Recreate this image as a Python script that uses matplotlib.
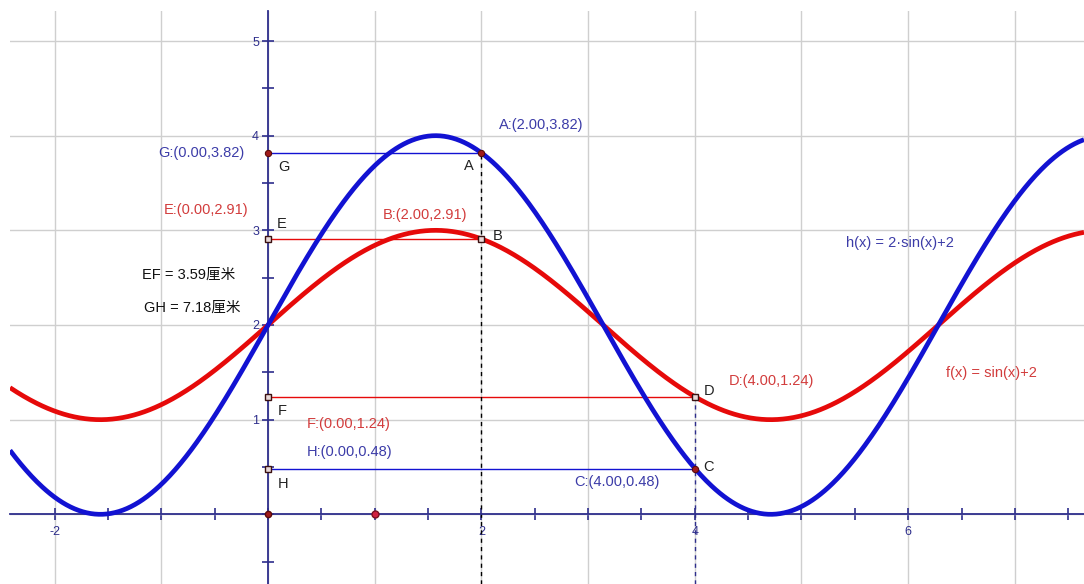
import numpy as np
import matplotlib
matplotlib.use('Agg')
import matplotlib.pyplot as plt

plt.rcParams['font.family'] = ['Liberation Sans', 'Noto Sans CJK SC']

# visible window of the graphing view
x_min, x_max = -2.418, 7.648
y_min, y_max = -0.736, 5.317

# functions drawn in the view: f(x) = sin(x)+2, h(x) = 2·sin(x)+2
xs = np.linspace(x_min, x_max, 800)
f_vals = np.sin(xs) + 2
h_vals = 2 * np.sin(xs) + 2

# named points
pt_names = ['A', 'B', 'C', 'D', 'E', 'F', 'G', 'H']
pt_x = [2.00, 2.00, 4.00, 4.00, 0.00, 0.00, 0.00, 0.00]
pt_y = [3.82, 2.91, 0.48, 1.24, 2.91, 1.24, 3.82, 0.48]
pt_col = ['blue', 'red', 'blue', 'red', 'red', 'red', 'blue', 'blue']

# free points on the x axis
axis_pts_x = [0.0, 1.0]
axis_pts_y = [0.0, 0.0]

# segments between named points
segments = [('G', 'A', 'blue'), ('E', 'B', 'red'), ('F', 'D', 'red'), ('H', 'C', 'blue')]

# measurements shown at the left
measure_text = ['EF = 3.59厘米', 'GH = 7.18厘米']

x_tick_labels = ['-2', '', '', '', '2', '', '4', '', '6', '']
y_tick_labels = ['', '1', '2', '3', '4', '5']

navy = '#2e2e8c'
curve_col = {'blue': '#1212d2', 'red': '#e60a0a'}
text_col = {'blue': '#3c3ca8', 'red': '#d23c3c'}

fig = plt.figure(figsize=(10.84, 5.84), dpi=100)
ax = fig.add_axes([10 / 1084, 0, 1074 / 1084, 573 / 584])
ax.set_xlim(x_min, x_max)
ax.set_ylim(y_min, y_max)

for s in ['top', 'right']:
    ax.spines[s].set_visible(False)
ax.spines['left'].set_position(('data', 0))
ax.spines['bottom'].set_position(('data', 0))
for s in ['left', 'bottom']:
    ax.spines[s].set_color(navy)
    ax.spines[s].set_linewidth(1.3)

ax.set_xticks(np.arange(-2, 8, 1))
ax.set_xticklabels(x_tick_labels)
ax.set_xticks(np.arange(-2.0, 7.6, 0.5), minor=True)
ax.set_yticks(np.arange(0, 6, 1))
ax.set_yticklabels(y_tick_labels)
ax.set_yticks(np.arange(-0.5, 5.4, 0.5), minor=True)
ax.tick_params(which='both', direction='inout', length=9, width=1.2,
               color=navy, labelcolor=navy, labelsize=9)
ax.tick_params(axis='x', pad=4)
ax.tick_params(axis='y', pad=2)
ax.grid(True, which='major', color='#cfcfcf', linewidth=1)
ax.set_axisbelow(True)

pts = {n: (x, y) for n, x, y in zip(pt_names, pt_x, pt_y)}

# horizontal segments
for a, b, c in segments:
    ax.plot([pts[a][0], pts[b][0]], [pts[a][1], pts[b][1]],
            color=curve_col[c], lw=1.0, zorder=2)

# dashed verticals from A and D down
ax.vlines(pts['A'][0], y_min, pts['A'][1], colors='black', linestyles=(0, (3, 3)), lw=1.0, zorder=2)
ax.vlines(pts['D'][0], y_min, pts['D'][1], colors=navy, linestyles=(0, (3, 3)), lw=1.0, zorder=2)

# curves
ax.plot(xs, f_vals, color=curve_col['red'], lw=3.4, zorder=3, solid_capstyle='butt')
ax.plot(xs, h_vals, color=curve_col['blue'], lw=3.4, zorder=3, solid_capstyle='butt')

# points
for n in pt_names:
    if n in ('A', 'C', 'G'):
        ax.plot(*pts[n], 'o', ms=4.5, mfc='#a01a1a', mec='#5a0a0a', mew=0.8, zorder=5)
    else:
        ax.plot(*pts[n], 's', ms=4, mfc='#e8d8d8', mec='#3a1010', mew=1.0, zorder=5)
ax.plot(axis_pts_x[0], axis_pts_y[0], 'o', ms=4.5, mfc='#a01a1a', mec='#5a0a0a', zorder=5)
ax.plot(axis_pts_x[1], axis_pts_y[1], 'o', ms=5, mfc='#d02040', mec='#7a1020', zorder=5)

# labels: coordinate text (offset in pixels, alignment) and letter name
coord_off = {'A': (18, 28, 'left'), 'B': (-14, 24, 'right'), 'C': (-35, -13, 'right'),
             'D': (34, 16, 'left'), 'E': (-20, 29, 'right'), 'F': (39, -27, 'left'),
             'G': (-23, 0, 'right'), 'H': (39, 17, 'left')}
letter_off = {'A': (-13, -13), 'B': (16, 3), 'C': (14, 2), 'D': (14, 6),
              'E': (14, 15), 'F': (14, -14), 'G': (16, -14), 'H': (15, -15)}

for n, c in zip(pt_names, pt_col):
    dx, dy, ha = coord_off[n]
    ax.annotate(f'{n}:({pts[n][0]:.2f},{pts[n][1]:.2f})', pts[n], xytext=(dx, dy),
                textcoords='offset pixels', ha=ha, va='center',
                color=text_col[c], fontsize=10.5)
    lx, ly = letter_off[n]
    ax.annotate(n, pts[n], xytext=(lx, ly), textcoords='offset pixels',
                ha='center', va='center', color='#222222', fontsize=10.5)

fig.text(142 / 1084, 1 - 275 / 584, measure_text[0], va='center', fontsize=10.5, color='#111111')
fig.text(144 / 1084, 1 - 308 / 584, measure_text[1], va='center', fontsize=10.5, color='#111111')

fig.text(846 / 1084, 1 - 243 / 584, 'h(x) = 2·sin(x)+2', va='center', fontsize=10.5, color=text_col['blue'])
fig.text(946 / 1084, 1 - 373 / 584, 'f(x) = sin(x)+2', va='center', fontsize=10.5, color=text_col['red'])

fig.savefig('out.png', dpi=100)
